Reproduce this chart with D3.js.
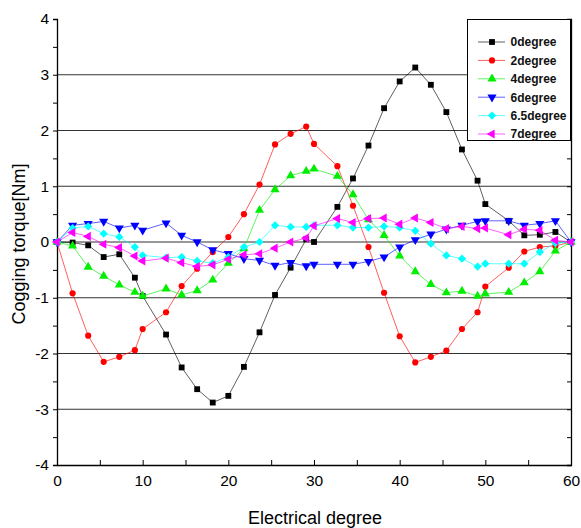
<!DOCTYPE html>
<html>
<head>
<meta charset="utf-8">
<script src="https://cdn.jsdelivr.net/npm/d3@7"></script>
<style>
  body { margin: 0; background: #fff; }
  svg { display: block; font-family: Arial, "Liberation Sans", sans-serif; }
</style>
</head>
<body>
<div id="Graph"></div>
<script>
// electrical degree sample positions
const xDeg = [0, 1.82, 3.64, 5.45, 7.27, 9.09, 10, 12.73, 14.55, 16.36, 18.18, 20, 21.82, 23.64, 25.45, 27.27, 29.09,
  30, 32.73, 34.55, 36.36, 38.18, 40, 41.82, 43.64, 45.45, 47.27, 49.09, 50, 52.73, 54.55, 56.36, 58.18, 60];

const deg0 = [0, -0.01, -0.06, -0.27, -0.22, -0.64, -0.97, -1.66, -2.25, -2.64, -2.88, -2.76, -2.24, -1.62, -0.95, -0.46, 0.05,
  0.0, 0.63, 1.14, 1.73, 2.40, 2.88, 3.13, 2.82, 2.33, 1.66, 1.10, 0.68, 0.38, 0.12, 0.13, 0.18, 0];
const deg2 = [0, -0.92, -1.68, -2.15, -2.06, -1.94, -1.56, -1.26, -0.79, -0.48, -0.18, 0.09, 0.5, 1.03, 1.75, 1.94, 2.07,
  1.76, 1.36, 0.65, -0.09, -0.91, -1.69, -2.16, -2.06, -1.95, -1.56, -1.26, -0.80, -0.46, -0.17, -0.09, -0.07, 0];
const deg4 = [0, -0.07, -0.45, -0.61, -0.77, -0.9, -0.97, -0.84, -0.95, -0.87, -0.68, -0.38, -0.12, 0.57, 0.94, 1.19, 1.27,
  1.31, 1.18, 0.85, 0.4, 0.12, -0.25, -0.53, -0.76, -0.91, -0.88, -0.97, -0.93, -0.9, -0.73, -0.53, -0.16, 0];
const deg6 = [0, 0.3, 0.33, 0.37, 0.25, 0.3, 0.21, 0.34, 0.12, 0.0, -0.14, -0.21, -0.3, -0.33, -0.42, -0.37, -0.43,
  -0.4, -0.4, -0.4, -0.35, -0.27, -0.09, 0.04, 0.14, 0.23, 0.3, 0.37, 0.38, 0.38, 0.3, 0.33, 0.38, 0];
const deg65 = [0, 0.25, 0.28, 0.15, 0.09, -0.09, -0.24, -0.28, -0.27, -0.34, -0.38, -0.27, -0.09, 0.0, 0.3, 0.27, 0.27,
  0.3, 0.3, 0.26, 0.26, 0.28, 0.26, 0.2, -0.03, -0.24, -0.3, -0.44, -0.39, -0.39, -0.39, -0.18, -0.02, 0];
const deg7 = [0, 0.17, 0.1, -0.04, -0.1, -0.25, -0.34, -0.29, -0.37, -0.44, -0.41, -0.31, -0.23, -0.21, -0.11, 0.0, 0.07,
  0.29, 0.42, 0.35, 0.42, 0.43, 0.32, 0.43, 0.35, 0.24, 0.28, 0.24, 0.25, 0.13, 0.23, 0.21, 0.03, 0];

const seriesNames = ["0degree", "2degree", "4degree", "6degree", "6.5degree", "7degree"];
const seriesValues = [deg0, deg2, deg4, deg6, deg65, deg7];
const seriesColors = ["#000000", "#ff0000", "#00ee00", "#0000ff", "#00ffff", "#ff00ff"];

const xTicks = [0, 10, 20, 30, 40, 50, 60];
const yTicks = [-4, -3, -2, -1, 0, 1, 2, 3, 4];

const width = 581, height = 528;
const margin = {top: 19, right: 10, bottom: 63, left: 57};

const svg = d3.select("#Graph").append("svg")
  .attr("width", width)
  .attr("height", height);

const x = d3.scaleLinear().domain([0, 60]).range([margin.left, width - margin.right]);
const y = d3.scaleLinear().domain([-4, 4]).range([height - margin.bottom, margin.top]);

// horizontal grid lines at the inner major ticks
svg.append("g")
  .selectAll("line")
  .data(yTicks.slice(1, -1))
  .enter().append("line")
  .attr("x1", x(0)).attr("x2", x(60))
  .attr("y1", d => y(d)).attr("y2", d => y(d))
  .attr("stroke", "#333")
  .attr("stroke-width", 1.1);

// left axis
svg.append("g")
  .attr("transform", `translate(${x(0)},0)`)
  .call(d3.axisLeft(y).tickValues(d3.range(-4, 4.01, 0.5)).tickSize(4).tickFormat(d => Number.isInteger(d) ? d : ""))
  .call(g => g.select(".domain").attr("stroke", "#000").attr("stroke-width", 1.3))
  .call(g => g.selectAll("text").attr("font-size", 15.5).attr("fill", "#000").attr("x", -8));

// right axis, ticks point inwards
svg.append("g")
  .attr("transform", `translate(${x(60)},0)`)
  .call(d3.axisLeft(y).tickValues(d3.range(-4, 4.01, 0.5)).tickSize(4).tickFormat(""))
  .call(g => g.selectAll(".tick line").attr("x2", -4))
  .call(g => g.select(".domain").attr("stroke", "#000").attr("stroke-width", 1.3));

// bottom axis, ticks point up
svg.append("g")
  .attr("transform", `translate(0,${y(-4)})`)
  .call(d3.axisBottom(x).tickValues(d3.range(0, 60.01, 5)).tickSize(0).tickFormat(d => d % 10 === 0 ? d : ""))
  .call(g => g.select(".domain").attr("stroke", "#000").attr("stroke-width", 1.3))
  .call(g => g.selectAll(".tick line").attr("y2", -5).attr("stroke", "#000"))
  .call(g => g.selectAll("text").attr("font-size", 15.5).attr("fill", "#000").attr("dy", "0.71em").attr("y", 10));

// axis titles
svg.append("text")
  .attr("x", (x(0) + x(60)) / 2 + 1)
  .attr("y", 524)
  .attr("text-anchor", "middle")
  .attr("font-size", 18)
  .text("Electrical degree");

svg.append("text")
  .attr("transform", `translate(25,${y(0) + 2}) rotate(-90)`)
  .attr("text-anchor", "middle")
  .attr("font-size", 18)
  .text("Cogging torque[Nm]");

// marker shapes
const symbols = [
  {type: d3.symbolSquare, size: 34, rot: 0},
  {type: d3.symbolCircle, size: 30, rot: 0},
  {type: d3.symbolTriangle, size: 36, rot: 0},
  {type: d3.symbolTriangle, size: 36, rot: 180},
  {type: d3.symbolSquare, size: 34, rot: 45},
  {type: d3.symbolTriangle, size: 36, rot: -90}
];

const line = d3.line()
  .x((d, i) => x(xDeg[i]))
  .y(d => y(d));

seriesValues.forEach((vals, s) => {
  const g = svg.append("g").attr("class", "series");
  g.append("path")
    .datum(vals)
    .attr("d", line)
    .attr("fill", "none")
    .attr("stroke", seriesColors[s])
    .attr("stroke-opacity", 0.7)
    .attr("stroke-width", 0.9);
  g.selectAll("path.mark")
    .data(vals)
    .enter().append("path")
    .attr("class", "mark")
    .attr("d", d3.symbol().type(symbols[s].type).size(symbols[s].size))
    .attr("transform", (d, i) => `translate(${x(xDeg[i])},${y(d)}) rotate(${symbols[s].rot})`)
    .attr("fill", seriesColors[s]);
});

// legend
const legend = svg.append("g").attr("id", "legend");
legend.append("rect")
  .attr("x", 467.5).attr("y", 19.5)
  .attr("width", 103).attr("height", 121)
  .attr("fill", "#fff")
  .attr("stroke", "#000")
  .attr("stroke-width", 1);

seriesNames.forEach((name, s) => {
  const ly = 42 + s * 18.4;
  legend.append("line")
    .attr("x1", 478).attr("x2", 505)
    .attr("y1", ly).attr("y2", ly)
    .attr("stroke", seriesColors[s])
    .attr("stroke-opacity", 0.7)
    .attr("stroke-width", 0.9);
  legend.append("path")
    .attr("d", d3.symbol().type(symbols[s].type).size(symbols[s].size))
    .attr("transform", `translate(492,${ly}) rotate(${symbols[s].rot})`)
    .attr("fill", seriesColors[s]);
  legend.append("text")
    .attr("x", 510.5)
    .attr("y", ly)
    .attr("dy", "0.36em")
    .attr("font-size", 12)
    .attr("font-weight", "bold")
    .attr("fill", "#111")
    .text(name);
});
</script>
</body>
</html>
